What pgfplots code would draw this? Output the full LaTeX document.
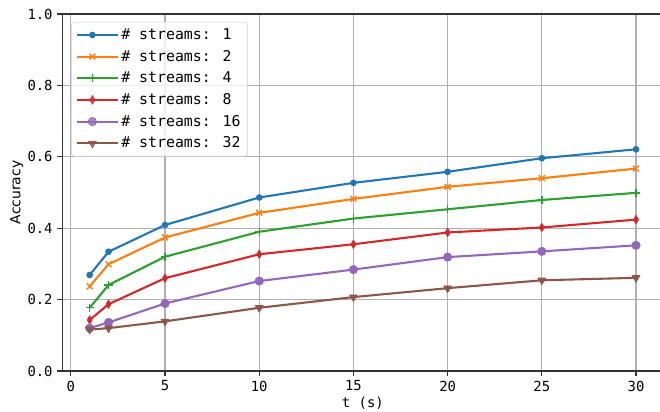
\documentclass[border=0pt]{standalone}
\usepackage{pgfplots}
\pgfplotsset{compat=1.18}
\usepackage{fontspec}
\setmainfont{DejaVu Sans Mono}
\newfontfamily\dvs{DejaVu Sans}
\definecolor{c0}{HTML}{1F77B4}
\definecolor{c1}{HTML}{FF7F0E}
\definecolor{c2}{HTML}{2CA02C}
\definecolor{c3}{HTML}{D62728}
\definecolor{c4}{HTML}{9467BD}
\definecolor{c5}{HTML}{8C564B}
\definecolor{gridc}{HTML}{B0B0B0}
\begin{document}
\fontsize{10}{12}\selectfont
\begin{tikzpicture}
\begin{axis}[
  name=ax,
  scale only axis,
  width=432.7pt, height=257pt,
  xmin=-0.45, xmax=31.45, ymin=0, ymax=1.0,
  xtick={0,5,10,15,20,25,30},
  ytick={0,0.2,0.4,0.6,0.8,1.0},
  yticklabel style={/pgf/number format/.cd, fixed, fixed zerofill, precision=1},
  /pgf/number format/assume math mode=true,
  tick label style={font=\fontsize{10}{12}\selectfont},
  tick align=outside, major tick length=3.5pt,
  xtick pos=bottom, ytick pos=left,
  every tick/.style={black!80, line width=0.8pt},
  axis line style={black!80, line width=0.8pt},
  grid=major,
  major grid style={gridc, line width=0.8pt},
  xlabel={t (s)},
  ylabel={{\dvs Accuracy}},
  xlabel style={at={(axis description cs:0.5,-0.0896)}, anchor=center, font=\fontsize{10}{12}\selectfont},
  ylabel style={at={(axis description cs:-0.0759,0.5)}, anchor=center, font=\fontsize{10}{12}\selectfont},
  legend style={at={(0.0145,0.978)}, anchor=north west, draw=black!20, rounded corners=2pt,
    fill=white, fill opacity=0.8, text opacity=1, font=\fontsize{10.7}{12.8}\selectfont,
    row sep=2.2pt, inner xsep=3pt, inner ysep=2.6pt},
  legend cell align=left,
  legend image code/.code={\draw[mark repeat=2,mark phase=2] plot coordinates {(0pt,0pt)(11.4pt,0pt)(22.8pt,0pt)}; \path (0pt,0pt) -- (29.5pt,0pt);},
  every axis plot/.append style={line width=1.5pt},
]
\addplot[c0, mark=*, mark size=1.6pt, mark options={solid}] coordinates {
(1,0.269)(2,0.334)(5,0.409)(10,0.486)(15,0.527)(20,0.558)(25,0.596)(30,0.621)};
\addlegendentry{\# streams: 1}
\addplot[c1, mark=x, mark size=3pt, mark options={line width=1pt}] coordinates {
(1,0.237)(2,0.299)(5,0.374)(10,0.443)(15,0.482)(20,0.516)(25,0.540)(30,0.567)};
\addlegendentry{\# streams: 2}
\addplot[c2, mark=+, mark size=3pt, mark options={line width=1pt}] coordinates {
(1,0.177)(2,0.241)(5,0.320)(10,0.390)(15,0.427)(20,0.453)(25,0.479)(30,0.499)};
\addlegendentry{\# streams: 4}
\addplot[c3, mark=diamond*, mark size=3pt, mark options={xscale=0.8, line width=0.5pt}] coordinates {
(1,0.143)(2,0.187)(5,0.260)(10,0.327)(15,0.355)(20,0.388)(25,0.402)(30,0.424)};
\addlegendentry{\# streams: 8}
\addplot[c4, mark=*, mark size=3pt, mark options={line width=0.5pt}] coordinates {
(1,0.120)(2,0.136)(5,0.189)(10,0.252)(15,0.284)(20,0.319)(25,0.335)(30,0.352)};
\addlegendentry{\# streams: 16}
\addplot[c5, mark=triangle*, mark size=3.2pt, mark options={rotate=180, line width=0.5pt}] coordinates {
(1,0.116)(2,0.120)(5,0.139)(10,0.177)(15,0.207)(20,0.232)(25,0.254)(30,0.261)};
\addlegendentry{\# streams: 32}
\end{axis}
\pgfresetboundingbox
\path[use as bounding box] ([xshift=-44.9pt,yshift=-29.5pt]ax.south west) rectangle ([xshift=430.3pt,yshift=267.1pt]ax.south west);
\end{tikzpicture}
\end{document}
